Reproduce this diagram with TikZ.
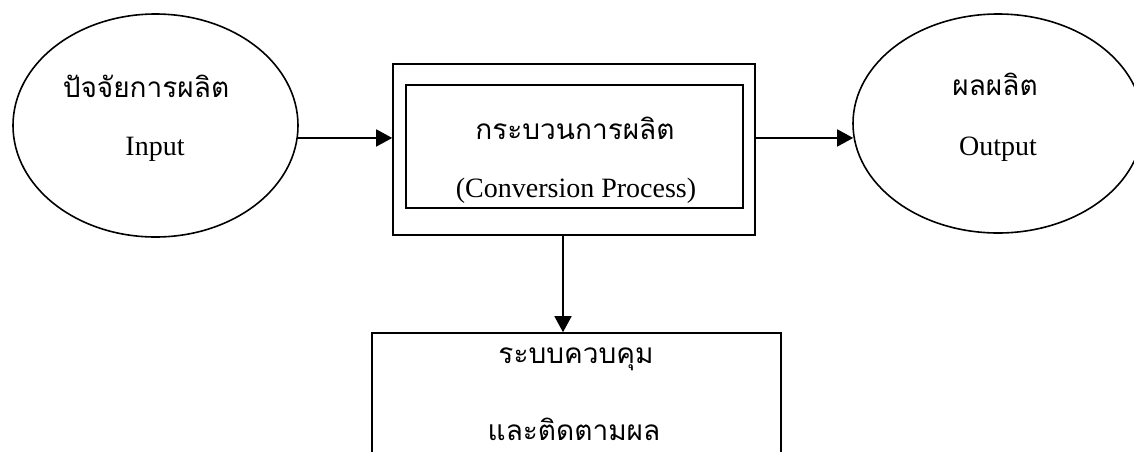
\documentclass[tikz,border=0pt]{standalone}
\usepackage{fontspec}
\setmainfont{Liberation Serif}
\newfontfamily\thaifont[Script=Thai]{Loma}
\usetikzlibrary{shapes.geometric,arrows.meta}

\begin{document}
\begin{tikzpicture}[x=1pt,y=-1pt,line width=1.6pt,
  oval/.style={draw,ellipse,inner sep=0pt},
  boxnode/.style={draw,rectangle,inner sep=0pt},
  flow/.style={-{Triangle[length=16pt,width=17pt]}},
  thailabel/.style={anchor=base,inner sep=0pt,font=\thaifont\fontsize{28}{32}\selectfont},
  latinlabel/.style={anchor=base,inner sep=0pt,font=\fontsize{28}{32}\selectfont}]
  \useasboundingbox (0,0) rectangle (1134,451);

  % input, process, output and control shapes
  \node[oval,minimum width=285pt,minimum height=223pt] (in) at (155.5,125.5) {};
  \node[oval,minimum width=290pt,minimum height=219pt] (out) at (998,123.5) {};
  \node[boxnode,minimum width=362pt,minimum height=171pt] (proc) at (574,149.5) {};
  \node[boxnode,minimum width=337pt,minimum height=123pt] (procin) at (574.5,146.5) {};
  \node[boxnode,minimum width=409pt,minimum height=160pt] (ctrl) at (576.5,413) {};

  % texts
  \node[thailabel] (inth) at (146,97) {ปัจจัยการผลิต};
  \node[latinlabel] (inen) at (155,155) {Input};
  \node[thailabel] (outth) at (995,95) {ผลผลิต};
  \node[latinlabel] (outen) at (998,155) {Output};
  \node[thailabel] (procth) at (575,139) {กระบวนการผลิต};
  \node[latinlabel] (procen) at (576,197) {(Conversion Process)};
  \node[thailabel] (ctrlth1) at (576,363) {ระบบควบคุม};
  \node[thailabel] (ctrlth2) at (574,440) {และติดตามผล};

  % connectors
  \draw[flow] (in.-5) -- (in.-5 -| proc.west);
  \draw[flow] (in.-5 -| proc.east) -- ([xshift=1pt]in.-5 -| out.west);
  \draw[flow] ([xshift=-11pt]proc.south) -- ([xshift=-11pt]proc.south |- ctrl.north);
\end{tikzpicture}
\end{document}
